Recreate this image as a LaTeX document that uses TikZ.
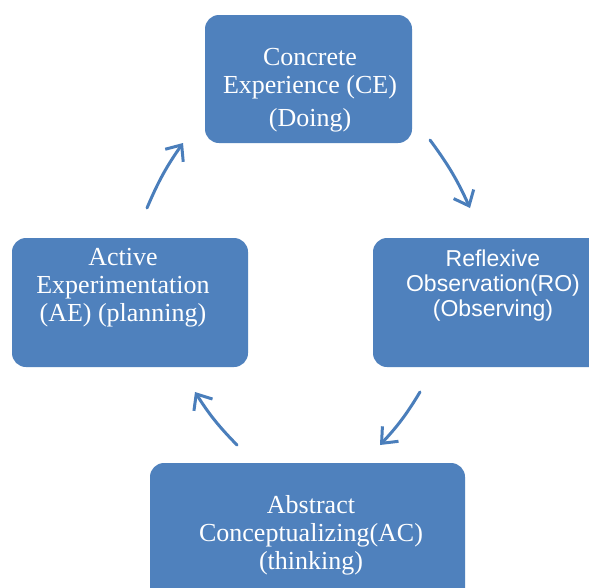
\documentclass[tikz,border=0pt]{standalone}
\usepackage{fontspec}
\setmainfont{Liberation Serif}
\newfontfamily\stagesans{Liberation Sans}
\usepackage{color}
\usetikzlibrary{arrows.meta}
\definecolor{stageblue}{RGB}{79,129,189}
\definecolor{arrowblue}{RGB}{74,126,187}

\begin{document}
\begin{tikzpicture}[x=1pt,y=1pt,yscale=-1,xscale=1,
  stage/.style={fill=stageblue, rounded corners=14pt, inner sep=0pt},
  stagetext/.style={text=white, align=center, inner sep=0pt, font=\fontsize{26}{28}\selectfont},
  cyclearrow/.style={draw=arrowblue, line width=3pt, line cap=round, -{Straight Barb[length=13pt,width=22pt]}}]
\clip (0,0) rectangle (589,587);
\fill [white] (0,0) rectangle (589,587);
% boxes
\node [stage, minimum width=207, minimum height=128] (ce) at (308.5,79) {};
\node [stage, minimum width=240, minimum height=129] (ro) at (493,302.5) {};
\node [stage, minimum width=236, minimum height=129] (ae) at (130,302.5) {};
\node [stage, minimum width=315, minimum height=150] (ac) at (307.5,538) {};
% texts
\node [stagetext] (ce-text) at (310,90.5) {Concrete\\Experience (CE)\\[5pt](Doing)};
\node [stagetext, font=\stagesans\fontsize{23}{25}\selectfont] (ro-text) at (493,286) {Reflexive\\Observation(RO)\\(Observing)};
\node [stagetext] (ae-text) at (123,287.5) {Active\\Experimentation\\(AE) (planning)};
\node [stagetext] (ac-text) at (311,535) {Abstract\\Conceptualizing(AC)\\(thinking)};
% arrows
\coordinate (ae-ce-a) at (147,208);
\coordinate (ae-ce-b) at (183,143);
\coordinate (ce-ro-a) at (430,140);
\coordinate (ce-ro-b) at (470,208);
\coordinate (ro-ac-a) at (420,392);
\coordinate (ro-ac-b) at (380,445);
\coordinate (ac-ae-a) at (237,445);
\coordinate (ac-ae-b) at (195,392);
\draw [cyclearrow] (ae-ce-a) to [bend right=6] (ae-ce-b);
\draw [cyclearrow] (ce-ro-a) to [bend right=6] (ce-ro-b);
\draw [cyclearrow] (ro-ac-a) to [bend right=6] (ro-ac-b);
\draw [cyclearrow] (ac-ae-a) to [bend right=6] (ac-ae-b);
\end{tikzpicture}
\end{document}
